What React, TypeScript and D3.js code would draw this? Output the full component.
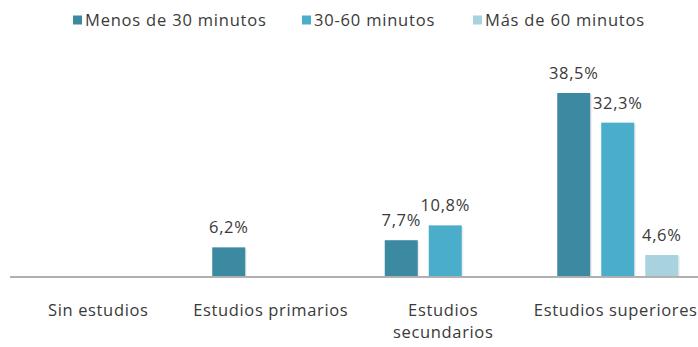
import React from "react";
import * as d3 from "d3";

const categories = ["Sin estudios", "Estudios primarios", "Estudios secundarios", "Estudios superiores"];
const categoryLines = [["Sin estudios"], ["Estudios primarios"], ["Estudios", "secundarios"], ["Estudios superiores"]];
const seriesNames = ["Menos de 30 minutos", "30-60 minutos", "Más de 60 minutos"];
const menos30 = [0, 6.2, 7.7, 38.5];
const entre30y60 = [0, 0, 10.8, 32.3];
const mas60 = [0, 0, 0, 4.6];
const seriesColors = ["#3B8AA1", "#4AADC9", "#A8D3DE"];

const W = 698, H = 347;
const FONT = "'Open Sans', sans-serif";
const TEXT = "#3A3A3A";
const FS = 16.5;
const LS = 0.65;

export default function App() {
  const series = [menos30, entre30y60, mas60];
  const x0 = d3.scaleBand<string>().domain(categories).range([14, 704]).paddingInner(0).paddingOuter(0);
  const x1 = d3.scaleBand<number>().domain([0, 1, 2]).range([0, 121]).paddingInner(0.25);
  const y = d3.scaleLinear().domain([0, 38.5]).range([277, 93]);
  const fmt = (v: number) => v.toFixed(1).replace(".", ",") + "%";
  const legendX = [73, 302, 473];

  return (
    <svg width={W} height={H} style={{ position: "absolute", left: 0, top: 0, background: "#fff" }}>
      {seriesNames.map((n, i) => (
        <g key={n}>
          <rect x={legendX[i]} y={15.5} width={9} height={9} fill={seriesColors[i]} />
          <text x={legendX[i] + 12} y={26} fontFamily={FONT} fontSize={FS} letterSpacing={0.8} fill={TEXT}>{n}</text>
        </g>
      ))}
      {categories.map((c, ci) => {
        const gx = x0(c)! + (x0.bandwidth() - 121) / 2;
        return (
          <g key={c}>
            {series.map((s, si) => {
              const v = s[ci];
              if (!v) return null;
              const bx = gx + x1(si)!;
              const bw = x1.bandwidth();
              return (
                <g key={si}>
                  <rect x={bx + 1.5} y={y(v) + 1.5} width={bw} height={y(0) - y(v) - 1.5} fill="#000" opacity={0.08} />
                  <rect x={bx} y={y(v)} width={bw} height={y(0) - y(v)} fill={seriesColors[si]} />
                  <text x={bx + bw / 2} y={y(v) - 14} textAnchor="middle" fontFamily={FONT} fontSize={FS} letterSpacing={LS} fill={TEXT}>{fmt(v)}</text>
                </g>
              );
            })}
            {categoryLines[ci].map((l, li) => (
              <text key={li} x={x0(c)! + x0.bandwidth() / 2 - 2} y={316 + li * 22} textAnchor="middle" fontFamily={FONT} fontSize={FS} letterSpacing={LS} fill={TEXT}>{l}</text>
            ))}
          </g>
        );
      })}
      <line x1={10} x2={698} y1={y(0)} y2={y(0)} stroke="#B0B0B0" strokeWidth={2} />
    </svg>
  );
}
